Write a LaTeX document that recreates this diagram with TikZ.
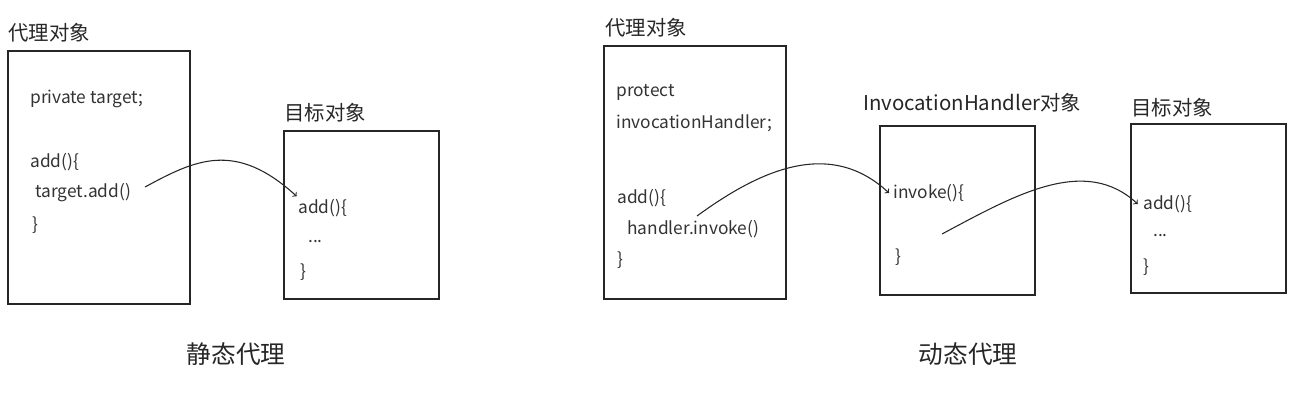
\documentclass[tikz,border=0pt]{standalone}
\usepackage{fontspec}
\setmainfont{Noto Sans CJK SC}
\tikzset{
  box/.style={draw=black!85, line width=1.1pt, rectangle},
  code/.style={anchor=west, inner sep=0pt, text=black!80, font=\fontsize{13}{15}\selectfont},
  title/.style={anchor=west, inner sep=0pt, text=black!85, font=\fontsize{15.3}{17}\selectfont},
  caption/.style={inner sep=0pt, text=black!85, font=\fontsize{18.5}{20}\selectfont},
  call/.style={draw=black!85, line width=0.8pt, ->}
}
\begin{document}
\begin{tikzpicture}[x=0.75pt,y=-0.75pt]
\useasboundingbox (0,0) rectangle (1300,404);
% static proxy
\node[box, minimum width=136.5pt, minimum height=189.75pt] (proxyA) at (99,177.5) {};
\node[title] (proxyAlabel) at (8,33) {代理对象};
\node[code] (fieldA) at (30,99) {private target;};
\node[code] (methodA) at (30,162) {add()\{};
\node[code] (callA) at (35,193) {target.add()};
\node[code] (closeA) at (32,225) {\}};

\node[box, minimum width=116.25pt, minimum height=126pt] (targetA) at (361.5,215) {};
\node[title] (targetAlabel) at (284,113) {目标对象};
\node[code] (addA) at (298,208) {add()\{};
\node[code] (dotsA) at (308,242) {...};
\node[code] (endA) at (300,272) {\}};

\node[caption] (staticlabel) at (236,354) {静态代理};

% dynamic proxy
\node[box, minimum width=136.5pt, minimum height=189.75pt] (proxyB) at (695,172.5) {};
\node[title] (proxyBlabel) at (605,28) {代理对象};
\node[code] (fieldB1) at (616,92) {protect};
\node[code] (fieldB2) at (616,123) {invocationHandler;};
\node[code] (methodB) at (617,198) {add()\{};
\node[code] (callB) at (627,229) {handler.invoke()};
\node[code] (closeB) at (617,260) {\}};

\node[box, minimum width=116.25pt, minimum height=126.75pt] (handler) at (957.5,210.5) {};
\node[title] (handlerlabel) at (863,103) {InvocationHandler对象};
\node[code] (invoke) at (893,193) {invoke()\{};
\node[code] (endH) at (895,257) {\}};

\node[box, minimum width=116.25pt, minimum height=126.75pt] (targetB) at (1208.5,208.5) {};
\node[title] (targetBlabel) at (1131,108) {目标对象};
\node[code] (addB) at (1143,204) {add()\{};
\node[code] (dotsB) at (1153,236) {...};
\node[code] (endB) at (1143,267) {\}};

\node[caption] (dynamiclabel) at (968,354) {动态代理};

% calls
\coordinate (fromA) at (145,187);
\coordinate (fromB) at (697,216);
\coordinate (fromH) at (942,234);
\path[call] (fromA) .. controls (195,160) and (235,140) .. ([xshift=-1pt,yshift=2pt]addA.north west);
\path[call] (fromB) .. controls (760,170) and (830,138) .. ([xshift=-3pt]invoke.west);
\path[call] (fromH) .. controls (1015,195) and (1085,155) .. ([xshift=-4pt]addB.west);
\end{tikzpicture}
\end{document}
